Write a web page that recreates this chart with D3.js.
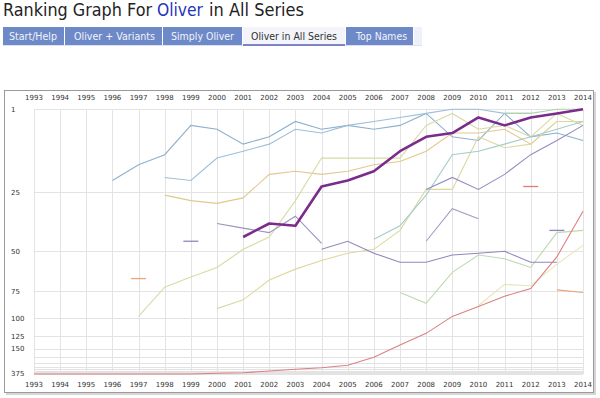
<!DOCTYPE html>
<html lang="en">
<head>
<meta charset="UTF-8">
<title>Ranking Graph For Oliver in All Series</title>
<script src="https://d3js.org/d3.v7.min.js"></script>
<style>
  body { margin: 0; background: #fff; }
  svg { display: block; font-family: "DejaVu Sans", Verdana, sans-serif; }
</style>
</head>
<body>
<svg width="600" height="398"></svg>
<script>
// ---- data ----
const years = [1993, 1994, 1995, 1996, 1997, 1998, 1999, 2000, 2001, 2002, 2003,
               2004, 2005, 2006, 2007, 2008, 2009, 2010, 2011, 2012, 2013, 2014];
const rankLabels = [1, 25, 50, 75, 100, 125, 150, 375];
const gridRanks = [1, 25, 50, 75, 100, 125, 150, 175, 200, 225, 250, 275, 300, 325, 350, 375];
const tabs = ["Start/Help", "Oliver + Variants", "Simply Oliver", "Oliver in All Series", "Top Names"];

// one value per year, null = not ranked
const oliver   = [null,null,null,null,null,null,null,null,43,37,38,23,21,18,12,8,7,3,5,3,2,1];
const blueA    = [null,null,null,21,16,13,5,6,10,8,4,6,5,6,5,2,8,9,2,8,7,9];
const blueB    = [null,null,null,null,null,20,21,14,12,10,6,7,5,4,3,2,1,1,2,2,null,null];
const greenTop = [null,null,null,null,null,null,null,null,null,null,null,null,null,null,null,null,null,null,2,2,1,1];
const tan1     = [null,null,null,null,null,26,28,29,27,19,18,19,18,16,15,12,7,7,6,10,4,4];
const yellow1  = [null,null,null,null,98,72,65,59,49,43,28,14,14,14,14,5,2,6,5,8,2,5];
const yellow2  = [null,null,null,null,null,null,null,90,82,67,60,55,51,49,40,24,24,8,11,10,4,4];
const yellow3  = [null,null,null,null,null,null,null,null,null,null,null,null,null,null,null,null,null,87,70,71,57,47];
const teal     = [null,null,null,null,null,null,null,null,null,null,null,null,null,44,38,26,13,12,10,8,6,4];
const green    = [null,null,null,null,null,null,null,null,null,null,null,null,null,null,76,85,62,52,54,59,41,40];
const lavA     = [null,null,null,null,null,null,null,37,39,41,34,46,null,null,null,null,null,null,null,null,null,null];
const lavB     = [null,null,null,null,null,null,null,null,null,null,null,49,45,51,56,56,52,51,50,56,56,null];
const lavC     = [null,null,null,null,null,null,null,null,null,null,null,null,null,null,null,45,31,35,null,null,null,null];
const lavD     = [null,null,null,null,null,null,null,null,null,null,null,null,null,null,null,24,20,24,19,13,9,5];
const red      = [375,375,375,375,375,375,375,335,314,274,250,234,215,175,141,120,98,88,79,73,53,32];
const orange   = [null,null,null,null,null,null,null,null,null,null,null,null,null,null,null,null,null,null,null,null,74,76];
const orangeDot = [null,null,null,null,66,null,null,null,null,null,null,null,null,null,null,null,null,null,null,null,null,null];
const lavDot1  = [null,null,null,null,null,null,45,null,null,null,null,null,null,null,null,null,null,null,null,null,null,null];
const redDot   = [null,null,null,null,null,null,null,null,null,null,null,null,null,null,null,null,null,null,null,23,null,null];
const lavDot2  = [null,null,null,null,null,null,null,null,null,null,null,null,null,null,null,null,null,null,null,null,40,null];

const series = [
  { values: blueA, color: "#8db0cf" },
  { values: blueB, color: "#9ebfd9" },
  { values: greenTop, color: "#b0d3ad" },
  { values: tan1, color: "#e2c88f" },
  { values: yellow1, color: "#dadaa4" },
  { values: yellow2, color: "#ddd8a0" },
  { values: yellow3, color: "#e8e6b8" },
  { values: teal, color: "#a2cdc9" },
  { values: green, color: "#bcdab3" },
  { values: lavA, color: "#9a92c2" },
  { values: lavB, color: "#9186bd" },
  { values: lavC, color: "#a39bc8" },
  { values: lavD, color: "#958cc0" },
  { values: red, color: "#dc8082" },
  { values: orange, color: "#eaa57a" },
  { values: orangeDot, color: "#eaa57a" },
  { values: lavDot1, color: "#9186bd" },
  { values: redDot, color: "#e07c7c" },
  { values: lavDot2, color: "#8c84ba" }
];

const svg = d3.select("svg");

// ---- title ----
const title = [
  { text: "Ranking Graph For", x0: 3, x1: 152, color: "#222" },
  { text: "Oliver", x0: 157, x1: 203, color: "#2233bb" },
  { text: "in All Series", x0: 209, x1: 304, color: "#222" }
];
svg.selectAll(".title").data(title).join("text")
  .attr("x", d => d.x0).attr("y", 16)
  .attr("font-size", 17)
  .attr("fill", d => d.color)
  .attr("textLength", d => d.x1 - d.x0)
  .attr("lengthAdjust", "spacingAndGlyphs")
  .text(d => d.text);

// ---- tabs ----
const tabEdges = [3, 65, 163, 243, 346, 414];
const tabText = [[9, 57], [74, 155], [171, 234], [251, 337], [356, 407]];
svg.append("line").attr("x1", 3).attr("x2", 422).attr("y1", 45.5).attr("y2", 45.5)
  .attr("stroke", "#dde0f3");
svg.append("rect").attr("x", 414).attr("y", 27).attr("width", 8).attr("height", 18).attr("fill", "#eef0fa");
tabs.forEach((t, i) => {
  const active = i === 3;
  svg.append("rect")
    .attr("x", tabEdges[i]).attr("y", 27)
    .attr("width", tabEdges[i + 1] - tabEdges[i] - 1).attr("height", 18)
    .attr("fill", active ? "#f4f4fb" : "#6d89c8");
  if (active) {
    svg.append("line").attr("x1", tabEdges[i]).attr("x2", tabEdges[i + 1] - 1)
      .attr("y1", 45).attr("y2", 45).attr("stroke", "#5b62b3").attr("stroke-width", 1.5);
  }
  svg.append("text")
    .attr("x", tabText[i][0]).attr("y", 39.5)
    .attr("font-size", 10.5)
    .attr("fill", active ? "#333" : "#f2f4fb")
    .attr("textLength", tabText[i][1] - tabText[i][0])
    .attr("lengthAdjust", "spacingAndGlyphs")
    .text(t);
});

// ---- frame ----
svg.append("rect").attr("x", 6).attr("y", 92).attr("width", 590).attr("height", 303).attr("fill", "#d6d6d6");
svg.append("rect").attr("x", 4.5).attr("y", 90.5).attr("width", 589).attr("height", 302)
  .attr("fill", "#fff").attr("stroke", "#9a9a9a");

// ---- scales ----
const x = d3.scaleLinear().domain([1993, 2014]).range([34, 583]);
// rank axis is compressed toward the bottom: 1 - exp(-(r-1)/64)
const squash = r => 1 - Math.exp(-(r - 1) / 64);
const yLin = d3.scaleLinear().domain([0, 1]).range([109.3, 109.3 + 265.4]);
const y = r => yLin(squash(r));

// ---- grid ----
const grid = svg.append("g").attr("stroke", "#e3e3e3").attr("stroke-width", 1);
grid.selectAll(".v").data(years).join("line")
  .attr("x1", d => Math.round(x(d)) + 0.5).attr("x2", d => Math.round(x(d)) + 0.5)
  .attr("y1", y(1)).attr("y2", y(375));
grid.selectAll(".h").data(gridRanks).join("line")
  .attr("x1", x(1993)).attr("x2", x(2014))
  .attr("y1", d => Math.round(y(d)) + 0.5).attr("y2", d => Math.round(y(d)) + 0.5);

// ---- axis labels ----
const labels = svg.append("g").attr("font-size", 7).attr("fill", "#333");
[100, 386.5].forEach(yy => {
  labels.selectAll(null).data(years).join("text")
    .attr("x", d => x(d)).attr("y", yy)
    .attr("text-anchor", "middle")
    .text(d => d);
});
labels.selectAll(".r").data(rankLabels).join("text")
  .attr("x", 11).attr("y", d => y(d) + 2.5)
  .text(d => d);

// ---- series ----
const line = d3.line()
  .defined(d => d.v != null)
  .x(d => x(d.year))
  .y(d => y(d.v));

const lines = svg.append("g").attr("fill", "none");
series.forEach(s => {
  const pts = years.map((yr, i) => ({ year: yr, v: s.values[i] }));
  lines.append("path").datum(pts)
    .attr("d", line)
    .attr("stroke", s.color).attr("stroke-width", 1.1);
  // isolated years drawn as a short dash
  pts.forEach((p, i) => {
    if (p.v == null) return;
    const prev = i > 0 ? pts[i - 1].v : null;
    const next = i < pts.length - 1 ? pts[i + 1].v : null;
    if (prev == null && next == null) {
      lines.append("line")
        .attr("x1", x(p.year) - 7.5).attr("x2", x(p.year) + 7.5)
        .attr("y1", y(p.v)).attr("y2", y(p.v))
        .attr("stroke", s.color).attr("stroke-width", 1.3);
    }
  });
});

lines.append("path")
  .datum(years.map((yr, i) => ({ year: yr, v: oliver[i] })))
  .attr("d", line)
  .attr("stroke", "#7b2b8b").attr("stroke-width", 2.6)
  .attr("stroke-linejoin", "round");
</script>
</body>
</html>
